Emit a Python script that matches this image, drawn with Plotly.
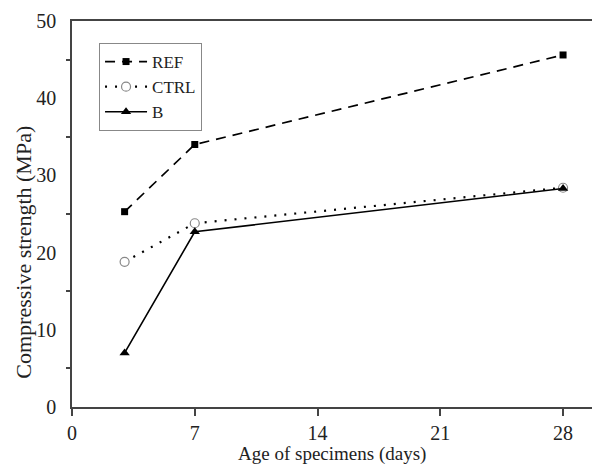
import plotly.graph_objects as go

days = [3, 7, 28]
ref = [25.3, 34.0, 45.6]
ctrl = [18.8, 23.8, 28.4]
b = [7.0, 22.7, 28.3]
xticks = [0, 7, 14, 21, 28]
yticks = [0, 10, 20, 30, 40, 50]

FONT = "'Liberation Serif', 'Times New Roman', 'DejaVu Serif', serif"
W, H = 592, 466
L, R, T, B = 72, 0, 21, 59

fig = go.Figure()
fig.add_trace(go.Scatter(x=days, y=ref, name="REF", mode="lines+markers",
                         line=dict(color="black", width=1.7, dash="10px,7px"),
                         marker=dict(symbol="square", size=7, color="black")))
fig.add_trace(go.Scatter(x=days, y=ctrl, name="CTRL", mode="lines+markers",
                         line=dict(color="black", width=2.2, dash="2px,8px"),
                         marker=dict(symbol="circle", size=9, color="white",
                                     line=dict(width=1.2, color="#888888"))))
fig.add_trace(go.Scatter(x=days, y=b, name="B", mode="lines+markers",
                         line=dict(color="black", width=1.6),
                         marker=dict(symbol="triangle-up", size=9, color="black")))

fig.update_layout(
    width=W, height=H,
    margin=dict(l=L, r=R, t=T, b=B),
    paper_bgcolor="white", plot_bgcolor="white",
    font=dict(family=FONT, size=19, color="#222"),
    showlegend=True,
    legend=dict(x=0.052, y=0.943, xanchor="left", yanchor="top",
                bordercolor="#888", borderwidth=1, bgcolor="white",
                font=dict(family=FONT, size=17, color="#222"),
                tracegroupgap=0, itemwidth=42),
    xaxis=dict(range=[0, 29.65], tickvals=xticks, ticktext=[str(v) for v in xticks],
               showgrid=False, zeroline=False, showline=True, linecolor="#444",
               linewidth=1.5, mirror=True, ticks="outside", ticklen=7, tickwidth=1.5,
               tickcolor="#444", tickfont=dict(family=FONT, size=20, color="#222")),
    yaxis=dict(range=[0, 50], tickvals=yticks, ticktext=[str(v) for v in yticks],
               showgrid=False, zeroline=False, showline=True, linecolor="#444",
               linewidth=1.5, mirror=False, ticks="", ticklabelstandoff=10,
               minor=dict(ticks="outside", tick0=5, dtick=10, ticklen=4,
                          tickwidth=1.5, tickcolor="#444", showgrid=False),
               tickfont=dict(family=FONT, size=20, color="#222")),
    annotations=[
        dict(text="Age of specimens (days)", xref="paper", yref="paper",
             x=0.5, y=-0.122, xanchor="center", yanchor="middle", showarrow=False,
             font=dict(family=FONT, size=19, color="#222")),
        dict(text="Compressive strength (MPa)", xref="paper", yref="paper",
             x=-0.094, y=0.40, xanchor="center", yanchor="middle", showarrow=False,
             textangle=-90, font=dict(family=FONT, size=22, color="#222")),
    ],
)

fig.write_html("out.html")
